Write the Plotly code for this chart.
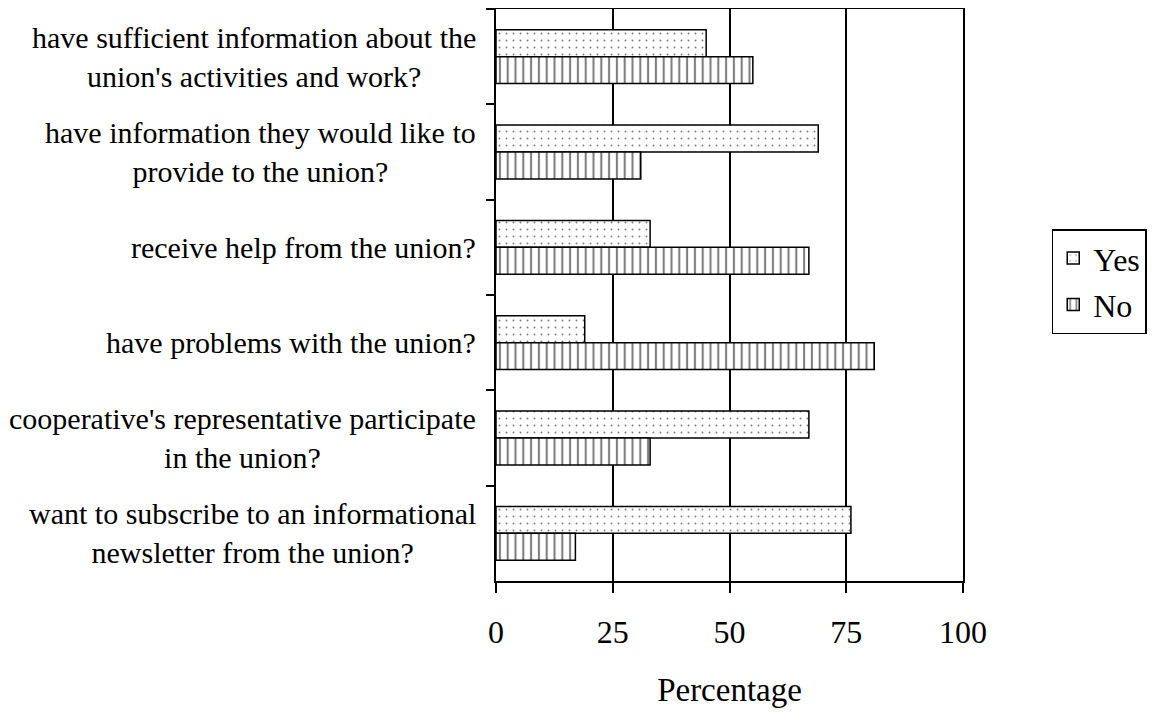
import plotly.graph_objects as go

categories = [
    "have sufficient information about the<br>union's activities and work?",
    "have information they would like to<br>provide to the union?",
    "receive help from the union?",
    "have problems with the union?",
    "cooperative's representative participate<br>in the union?",
    "want to subscribe to an informational<br>newsletter from the union?",
]
yes_values = [45, 69, 33, 19, 67, 76]
no_values = [55, 31, 67, 81, 33, 17]
x_ticks = [0, 25, 50, 75, 100]

FONT = "Liberation Serif, Times New Roman, serif"

fig = go.Figure()
fig.add_trace(go.Bar(
    name="Yes", y=categories, x=yes_values, orientation="h", legendgroup="yes",
    marker=dict(color="white", line=dict(color="black", width=1.5),
                pattern=dict(shape=".", fgcolor="black", bgcolor="white", size=7, solidity=0.06)),
))
fig.add_trace(go.Bar(
    name="No", y=categories, x=no_values, orientation="h", legendgroup="no",
    marker=dict(color="white", line=dict(color="black", width=1.5),
                pattern=dict(shape="|", fgcolor="black", bgcolor="white", size=7.8, solidity=0.27)),
))

for c in categories:
    fig.add_annotation(x=0, y=c, xref="paper", yref="y", text=c, showarrow=False,
                       xanchor="right", yanchor="middle", align="center", xshift=-18,
                       font=dict(family=FONT, size=30, color="black"))

fig.update_layout(
    width=1150, height=706,
    margin=dict(l=488, r=195, t=1, b=133, autoexpand=False),
    paper_bgcolor="white", plot_bgcolor="white",
    barmode="group", bargap=0.435, bargroupgap=0,
    font=dict(family=FONT, color="black"),
    legend=dict(x=1.19, y=0.615, xanchor="left", yanchor="top",
                bordercolor="black", borderwidth=1.5, bgcolor="white",
                font=dict(family=FONT, size=32, color="black"),
                tracegroupgap=2, itemwidth=30),
    xaxis=dict(range=[0, 100], tickvals=x_ticks, showgrid=True, gridcolor="black", gridwidth=1.5,
               showline=True, linecolor="black", linewidth=1.5, mirror=True,
               ticks="outside", ticklen=10, tickcolor="black", tickwidth=1.5,
               ticklabelstandoff=12,
               tickfont=dict(family=FONT, size=32, color="black"),
               title=dict(text="Percentage", font=dict(family=FONT, size=33, color="black"), standoff=29),
               zeroline=False, fixedrange=True),
    yaxis=dict(autorange="reversed", showticklabels=False, showline=True, linecolor="black",
               linewidth=1.5, mirror=True, ticks="outside", ticklen=8, tickcolor="black",
               tickwidth=1.5, tickson="boundaries", showgrid=False, fixedrange=True),
)

fig.write_html("out.html")
